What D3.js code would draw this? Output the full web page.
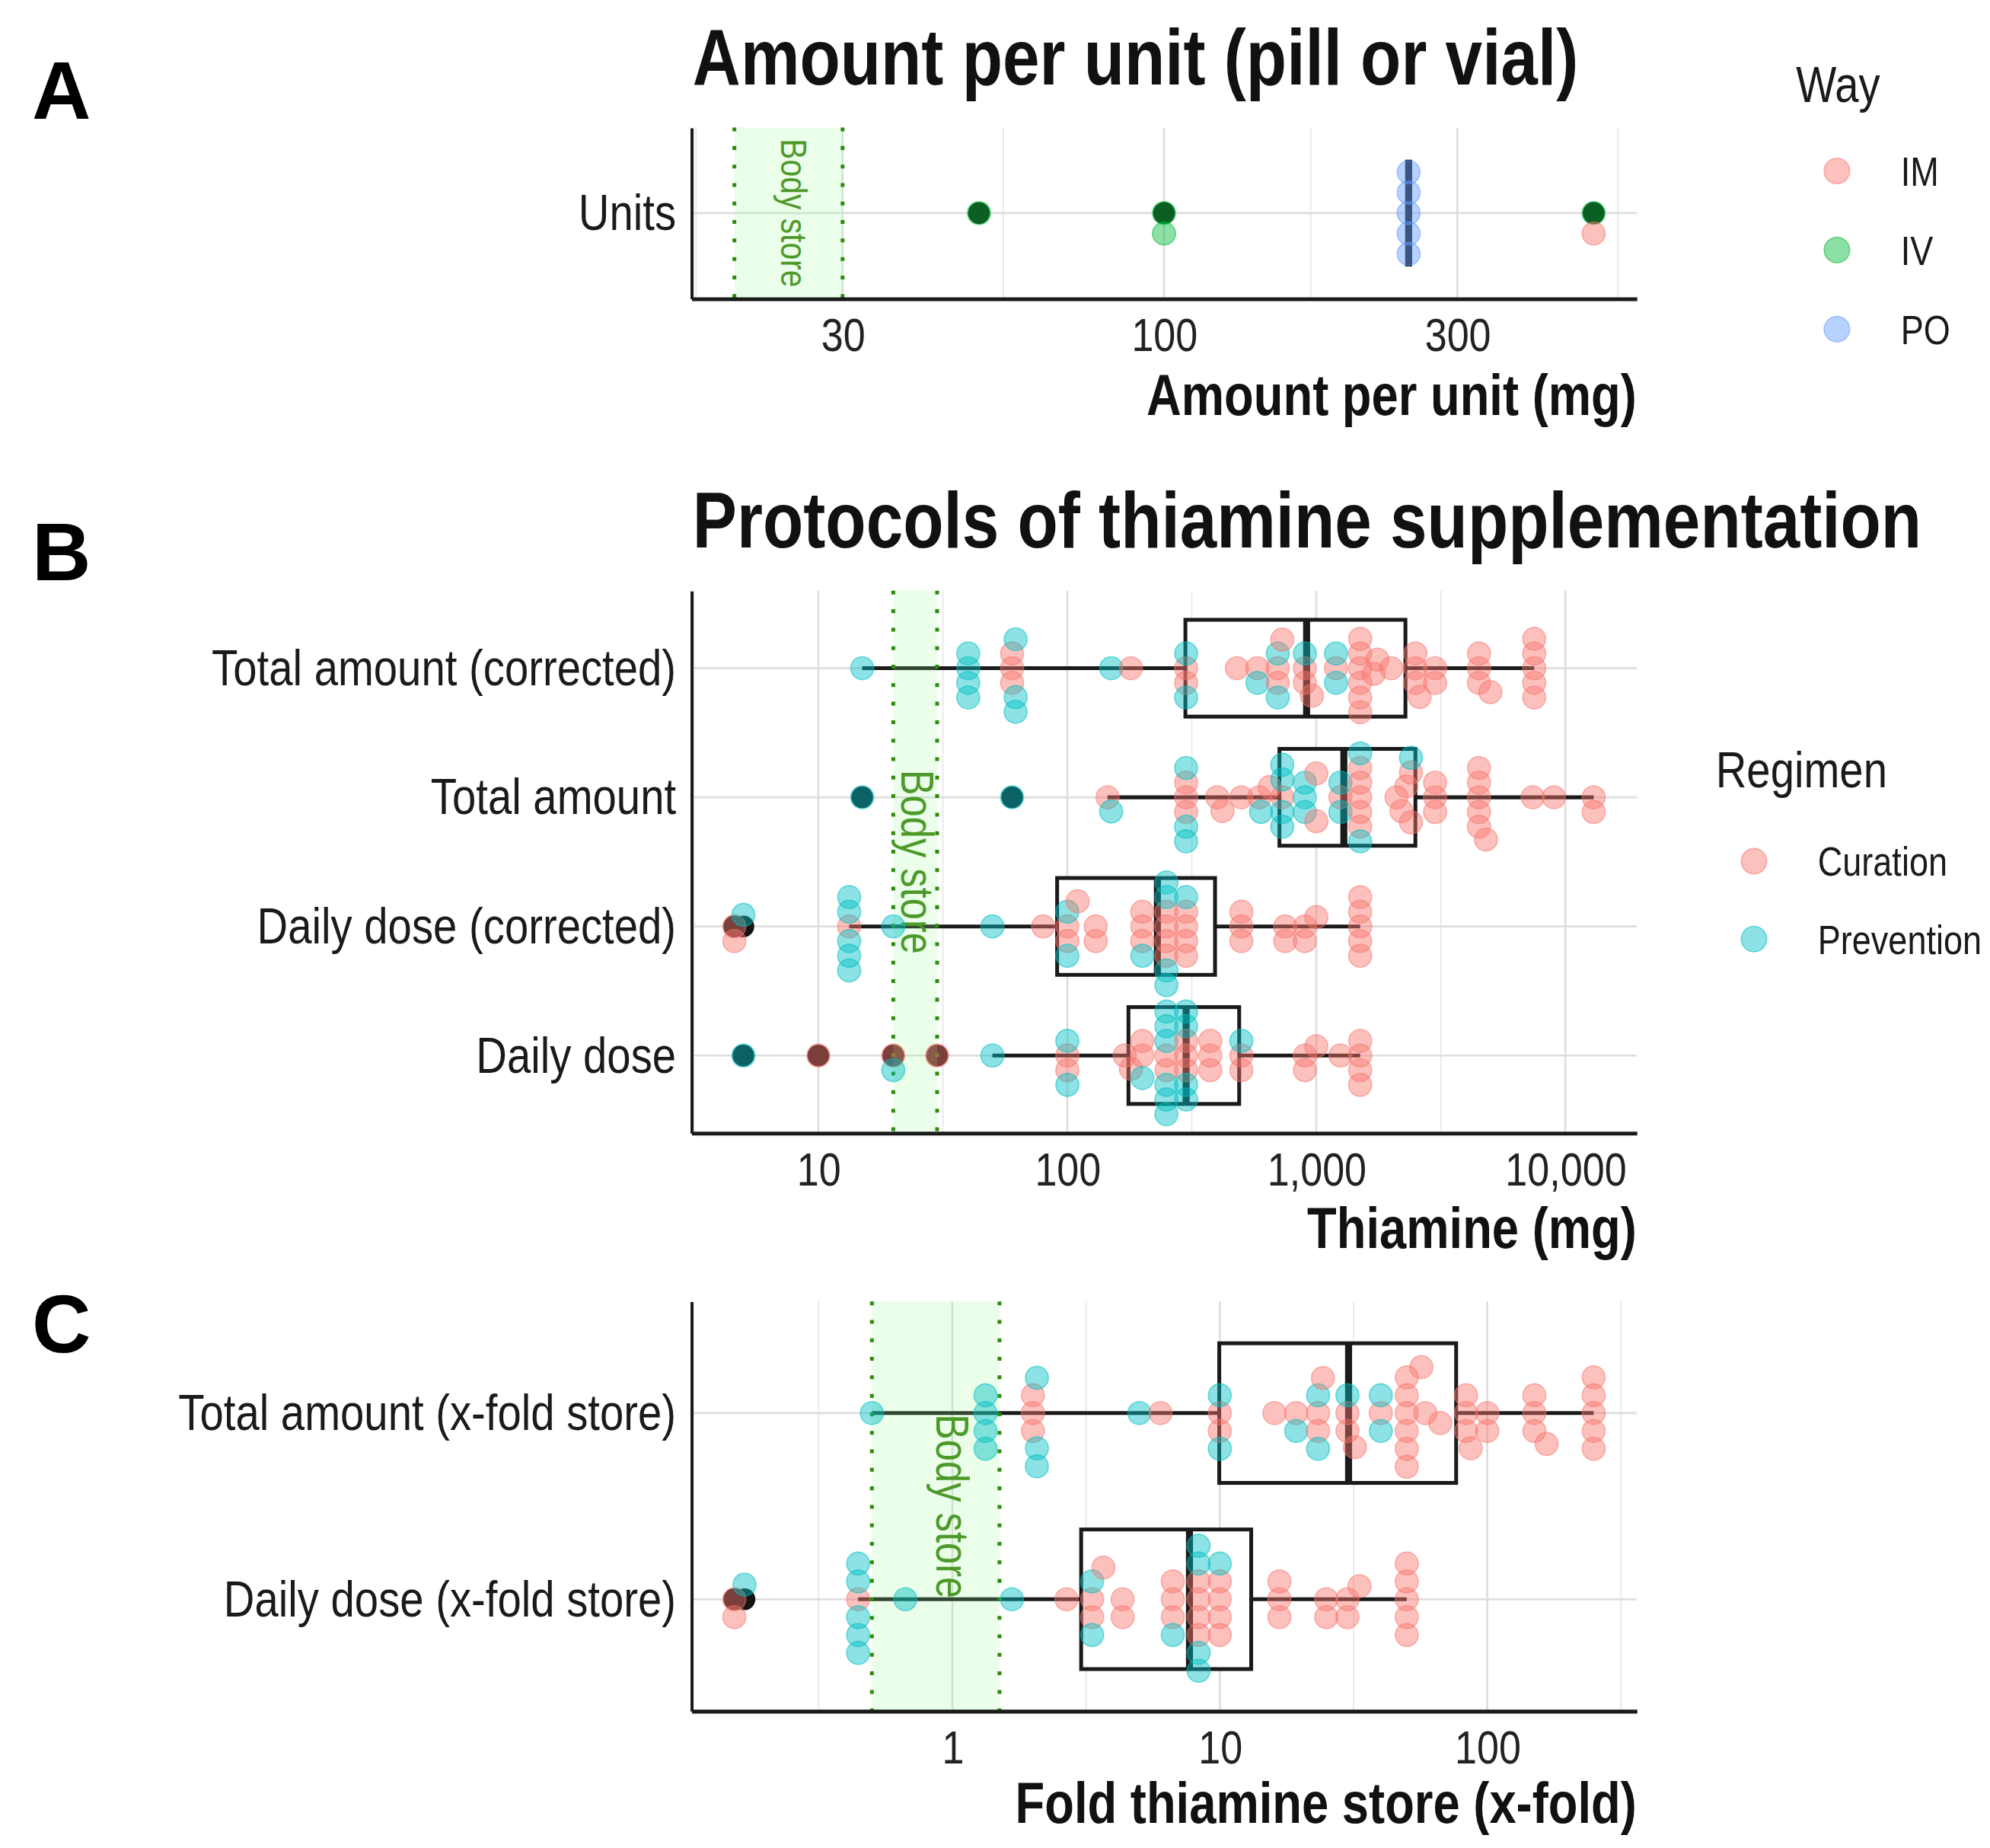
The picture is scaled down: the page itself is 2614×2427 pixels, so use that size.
<!DOCTYPE html>
<html>
<head>
<meta charset="utf-8">
<script src="https://cdn.jsdelivr.net/npm/d3@7"></script>
<style>
  body { margin: 0; background: #fff; }
  text { font-family: "Liberation Sans", Arial, sans-serif; }
</style>
</head>
<body>
<svg id="fig"></svg>
<script>
// ---- data ----
// Panel A: amount per unit (mg), by way of administration
const unitIM = [500];
const unitIV = [50, 100, 100, 500];
const unitPO = [250, 250, 250, 250, 250];
const unitBox = [250, 250, 250, 250, 250]; // lo, q1, median, q3, hi
const unitTicks = [10, 30, 100, 300, 1000];

// Panel B: thiamine (mg), by regimen
const catsB = ["Total amount (corrected)", "Total amount", "Daily dose (corrected)", "Daily dose"];
const totCorrCur = [60, 60, 60, 180, 300, 300, 480, 580, 700, 700, 730, 900, 900, 960, 1200, 1500, 1500, 1500, 1500, 1500, 1500, 1700, 1760, 2000, 2500, 2500, 2500, 2600, 3000, 3000, 4500, 4500, 4500, 5000, 7500, 7500, 7500, 7500, 7500];
const totCorrPrev = [15, 40, 40, 40, 40, 62, 62, 62, 150, 300, 300, 580, 700, 700, 900, 1200, 1200];
const totCur = [145, 300, 300, 300, 400, 420, 500, 590, 650, 730, 1000, 1000, 1250, 1500, 1500, 1500, 1500, 1500, 2100, 2200, 2300, 2400, 2400, 3000, 3000, 3000, 4500, 4500, 4500, 4500, 4500, 4800, 7400, 9000, 13000, 13000];
const totPrev = [15, 60, 150, 300, 300, 300, 600, 730, 730, 730, 730, 900, 900, 900, 1250, 1250, 1500, 1500, 2400];
const dayCorrCur = [4.6, 4.6, 13.3, 80, 100, 100, 110, 130, 130, 200, 200, 200, 250, 250, 250, 250, 300, 300, 300, 300, 500, 500, 500, 750, 750, 900, 900, 1000, 1500, 1500, 1500, 1500, 1500];
const dayCorrPrev = [5, 13.3, 13.3, 13.3, 13.3, 13.3, 20, 50, 100, 100, 200, 250, 250, 250, 250, 300];
const dayCur = [10, 20, 30, 100, 100, 170, 180, 200, 200, 250, 250, 300, 300, 300, 375, 375, 375, 500, 500, 900, 900, 1000, 1250, 1500, 1500, 1500, 1500];
const dayPrev = [5, 20, 50, 100, 100, 200, 250, 250, 250, 250, 250, 250, 300, 300, 300, 300, 500];
const boxTotCorr = [15, 298, 914, 2280, 7500];
const boxTot = [145, 711, 1290, 2500, 13000];
const boxDayCorr = [13.3, 91, 230, 392, 1500];
const boxDay = [50, 176, 300, 490, 1500];
const mgTicks = [1, 10, 100, 1000, 10000, 100000];

// Panel C: fold of thiamine store
const catsC = ["Total amount (x-fold store)", "Daily dose (x-fold store)"];
const foldTotCur = [2, 2, 2, 6, 10, 10, 16, 19.3, 23.3, 23.3, 24.3, 30, 30, 32, 40, 50, 50, 50, 50, 50, 50, 56.7, 58.7, 66.7, 83.3, 83.3, 83.3, 86.7, 100, 100, 150, 150, 150, 166.7, 250, 250, 250, 250, 250];
const foldTotPrev = [0.5, 1.33, 1.33, 1.33, 1.33, 2.07, 2.07, 2.07, 5, 10, 10, 19.3, 23.3, 23.3, 30, 40, 40];
const foldDayCur = [0.153, 0.153, 0.444, 2.67, 3.33, 3.33, 3.67, 4.33, 4.33, 6.67, 6.67, 6.67, 8.33, 8.33, 8.33, 8.33, 10, 10, 10, 10, 16.7, 16.7, 16.7, 25, 25, 30, 30, 33.3, 50, 50, 50, 50, 50];
const foldDayPrev = [0.167, 0.444, 0.444, 0.444, 0.444, 0.444, 0.667, 1.67, 3.33, 3.33, 6.67, 8.33, 8.33, 8.33, 8.33, 10];
const boxFoldTot = [0.5, 9.95, 30.3, 76.5, 250];
const boxFoldDay = [0.444, 3.03, 7.7, 13.1, 50];
const foldTicks = [0.1, 1, 10, 100, 1000];

// body store bands
const storeMg = [20, 30];
const storeFold = [0.5, 1.5];

// ---- drawing ----
const W = 2614, H = 2427;
const VW = 1560, VH = VW * H / W;
const svg = d3.select("#fig").attr("width", W).attr("height", H)
  .attr("viewBox", `0 0 ${VW} ${VH}`);
svg.append("rect").attr("width", VW).attr("height", VH).attr("fill", "#fff");

const red = "#F8766D", cyan = "#00BFC4";
const wayColors = { IM: "#F8766D", IV: "#00BA38", PO: "#619CFF" };
const X0 = 542, X1 = 1283, R = 9;
const ink = "#1a1a1a";

function logDomain(vals) {
  const lo = Math.log10(d3.min(vals)), hi = Math.log10(d3.max(vals));
  const pad = (hi - lo) * 0.05;
  return [Math.pow(10, lo - pad), Math.pow(10, hi + pad)];
}

// simple beeswarm: each point takes the free offset closest to the center line
function swarm(pts, s) {
  const placed = [];
  pts.forEach(p => {
    const near = placed.filter(q => Math.abs(q.px - p.px) < s);
    const cands = [0];
    near.forEach(q => {
      const h = Math.sqrt(s * s - (q.px - p.px) ** 2);
      cands.push(q.dy + h, q.dy - h);
    });
    cands.sort((a, b) => Math.abs(a) - Math.abs(b) || b - a);
    p.dy = cands.find(c => near.every(q => (q.px - p.px) ** 2 + (q.dy - c) ** 2 >= s * s - 1e-6));
    placed.push(p);
  });
}

function drawPanel(p) {
  const g = svg.append("g");
  const x = d3.scaleLog().domain(logDomain(p.range)).range([X0, X1]);
  const y = d3.scalePoint().domain(p.rows.map(r => r.cat)).range([p.top, p.bottom]).padding(0.6);
  const bh = y.step() * 0.375;
  const [d0, d1] = x.domain();
  const inside = v => v >= d0 && v <= d1;
  const major = p.breaks.filter(inside);
  const minor = d3.pairs(p.breaks).map(([a, b]) => Math.sqrt(a * b)).filter(inside);

  // grid
  const grid = g.append("g");
  grid.selectAll(".mi").data(minor).join("line")
    .attr("x1", d => x(d)).attr("x2", d => x(d))
    .attr("y1", p.top).attr("y2", p.bottom)
    .attr("stroke", "#e8e8e8").attr("stroke-width", 1.1);
  grid.selectAll(".ma").data(major).join("line")
    .attr("x1", d => x(d)).attr("x2", d => x(d))
    .attr("y1", p.top).attr("y2", p.bottom)
    .attr("stroke", "#dedede").attr("stroke-width", 1.6);
  grid.selectAll(".hz").data(y.domain()).join("line")
    .attr("x1", X0).attr("x2", X1)
    .attr("y1", d => y(d)).attr("y2", d => y(d))
    .attr("stroke", "#dedede").attr("stroke-width", 1.6);

  // boxplots
  p.rows.forEach(r => {
    const [lo, q1, md, q3, hi] = r.box;
    const cy = y(r.cat);
    const b = g.append("g").attr("stroke", ink).attr("stroke-width", 3);
    b.append("line").attr("x1", x(lo)).attr("x2", x(q1)).attr("y1", cy).attr("y2", cy);
    b.append("line").attr("x1", x(q3)).attr("x2", x(hi)).attr("y1", cy).attr("y2", cy);
    b.append("rect").attr("x", x(q1)).attr("width", x(q3) - x(q1))
      .attr("y", cy - bh).attr("height", 2 * bh).attr("fill", "#fff");
    b.append("line").attr("x1", x(md)).attr("x2", x(md))
      .attr("y1", cy - bh).attr("y2", cy + bh).attr("stroke-width", 5.5);
    const outs = r.groups.flatMap(gr => gr.vals).filter(v => v < lo * 0.999 || v > hi * 1.001);
    g.append("g").selectAll("circle").data(outs).join("circle")
      .attr("cx", d => x(d)).attr("cy", cy).attr("r", R - 0.5).attr("fill", "#141414");
  });

  // body store band
  g.append("rect").attr("x", x(p.band[0])).attr("width", x(p.band[1]) - x(p.band[0]))
    .attr("y", p.top).attr("height", p.bottom - p.top)
    .attr("fill", "#98FB98").attr("fill-opacity", 0.2);
  g.append("g").selectAll("line").data(p.band).join("line")
    .attr("x1", d => x(d)).attr("x2", d => x(d))
    .attr("y1", p.top).attr("y2", p.bottom)
    .attr("stroke", "#2e8b0e").attr("stroke-width", 3).attr("stroke-dasharray", "3 11.5");
  const bx = x((p.band[0] + p.band[1]) / 2), by = (p.top + p.bottom) / 2;
  g.append("text").attr("class", "c")
    .attr("transform", `translate(${bx},${by}) rotate(90)`)
    .attr("text-anchor", "middle").attr("dy", "0.35em")
    .attr("font-size", p.storeSize).attr("fill", "#4d9a2a").text("Body store");

  // points
  p.rows.forEach(r => {
    const pts = r.groups.flatMap(gr => gr.vals.map(v => ({ v, c: gr.color })));
    pts.sort((a, b) => a.v - b.v);
    pts.forEach(d => { d.px = x(d.v); });
    swarm(pts, p.spread);
    g.append("g").selectAll("circle").data(pts).join("circle")
      .attr("cx", d => d.px).attr("cy", d => y(r.cat) + d.dy).attr("r", R)
      .attr("fill", d => d.c).attr("fill-opacity", 0.45)
      .attr("stroke", d => d.c).attr("stroke-opacity", 0.5).attr("stroke-width", 1);
  });

  // axes
  const ax = g.append("g").attr("transform", `translate(0,${p.bottom})`)
    .call(d3.axisBottom(x).tickValues(major).tickFormat(d3.format(","))
      .tickSize(0).tickSizeOuter(0).tickPadding(15));
  ax.attr("font-size", null).attr("font-family", null);
  ax.select(".domain").attr("stroke", ink).attr("stroke-width", 3);
  ax.selectAll("text").attr("class", "c").attr("font-size", 37).attr("fill", "#222");

  const ay = g.append("g").attr("transform", `translate(${X0},0)`)
    .call(d3.axisLeft(y).tickSize(0).tickSizeOuter(0).tickPadding(12));
  ay.attr("font-size", null).attr("font-family", null);
  ay.select(".domain").attr("stroke", ink).attr("stroke-width", 2.4);
  ay.selectAll("text").attr("class", "c").attr("font-size", 40).attr("fill", "#1a1a1a");

  g.append("text").attr("class", "c").attr("x", X1).attr("y", p.xTitleY)
    .attr("text-anchor", "end").attr("font-size", 45).attr("font-weight", "bold")
    .attr("fill", "#111").text(p.xTitle);

  if (p.title) {
    g.append("text").attr("class", "c").attr("x", 543).attr("y", p.titleY)
      .attr("font-size", 62).attr("font-weight", "bold").attr("fill", "#111").text(p.title);
  }
  svg.append("text").attr("x", 25).attr("y", p.letterY)
    .attr("font-size", 64).attr("font-weight", "bold").attr("fill", "#000").text(p.letter);
}

drawPanel({
  letter: "A", letterY: 93, title: "Amount per unit (pill or vial)", titleY: 66,
  top: 100, bottom: 234, xTitle: "Amount per unit (mg)", xTitleY: 325,
  breaks: unitTicks, band: storeMg, storeSize: 29, spread: 16,
  range: [...unitIM, ...unitIV, ...unitPO, ...storeMg],
  rows: [{ cat: "Units", box: unitBox, groups: [
    { vals: unitIV, color: wayColors.IV },
    { vals: unitPO, color: wayColors.PO },
    { vals: unitIM, color: wayColors.IM }] }]
});

drawPanel({
  letter: "B", letterY: 455, title: "Protocols of thiamine supplementation", titleY: 429,
  top: 463, bottom: 888, xTitle: "Thiamine (mg)", xTitleY: 978,
  breaks: mgTicks, band: storeMg, storeSize: 36, spread: 11.5,
  range: [...totCorrCur, ...totCorrPrev, ...totCur, ...totPrev, ...dayCorrCur, ...dayCorrPrev, ...dayCur, ...dayPrev],
  rows: [
    { cat: catsB[0], box: boxTotCorr, groups: [{ vals: totCorrCur, color: red }, { vals: totCorrPrev, color: cyan }] },
    { cat: catsB[1], box: boxTot, groups: [{ vals: totCur, color: red }, { vals: totPrev, color: cyan }] },
    { cat: catsB[2], box: boxDayCorr, groups: [{ vals: dayCorrCur, color: red }, { vals: dayCorrPrev, color: cyan }] },
    { cat: catsB[3], box: boxDay, groups: [{ vals: dayCur, color: red }, { vals: dayPrev, color: cyan }] }
  ]
});

drawPanel({
  letter: "C", letterY: 1060, title: null,
  top: 1020, bottom: 1341, xTitle: "Fold thiamine store (x-fold)", xTitleY: 1429,
  breaks: foldTicks, band: storeFold, storeSize: 36, spread: 14,
  range: [...foldTotCur, ...foldTotPrev, ...foldDayCur, ...foldDayPrev],
  rows: [
    { cat: catsC[0], box: boxFoldTot, groups: [{ vals: foldTotCur, color: red }, { vals: foldTotPrev, color: cyan }] },
    { cat: catsC[1], box: boxFoldDay, groups: [{ vals: foldDayCur, color: red }, { vals: foldDayPrev, color: cyan }] }
  ]
});

// legends
function legend(title, tx, ty, items, kx, lx, ys) {
  const g = svg.append("g");
  g.append("text").attr("class", "c").attr("x", tx).attr("y", ty)
    .attr("font-size", 40).attr("fill", "#1a1a1a").text(title);
  const it = g.selectAll(".k").data(items).join("g");
  it.append("circle").attr("cx", kx).attr("cy", (d, i) => ys[i]).attr("r", 10)
    .attr("fill", d => d.color).attr("fill-opacity", 0.45)
    .attr("stroke", d => d.color).attr("stroke-opacity", 0.5);
  it.append("text").attr("class", "c").attr("x", lx).attr("y", (d, i) => ys[i] + 11.5)
    .attr("font-size", 32).attr("fill", "#1a1a1a").text(d => d.name);
}
legend("Way", 1408, 80,
  [{ name: "IM", color: wayColors.IM }, { name: "IV", color: wayColors.IV }, { name: "PO", color: wayColors.PO }],
  1440, 1490, [134, 196, 258]);
legend("Regimen", 1345, 617,
  [{ name: "Curation", color: red }, { name: "Prevention", color: cyan }],
  1375, 1425, [675, 736]);

// narrow the text like the original figure font (scale along the text direction, around its anchor)
svg.selectAll("text.c").each(function () {
  const t = d3.select(this);
  const tx = +t.attr("x") || 0, ty = +t.attr("y") || 0;
  const base = t.attr("transform") || "";
  t.attr("transform", `${base} translate(${tx},${ty}) scale(0.84,1) translate(${-tx},${-ty})`);
});
</script>
</body>
</html>
